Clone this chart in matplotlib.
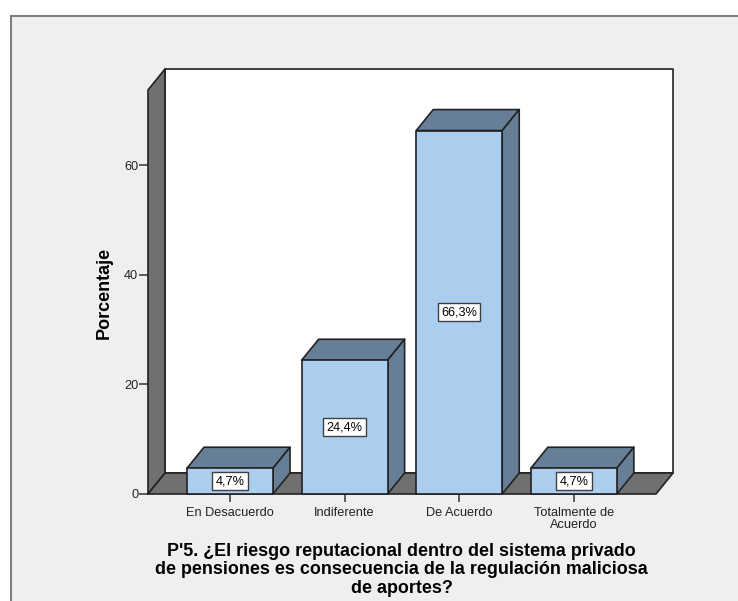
import matplotlib
matplotlib.use("Agg")
import matplotlib.pyplot as plt
from matplotlib.patches import Polygon, Rectangle

categories = ["En Desacuerdo", "Indiferente", "De Acuerdo", "Totalmente de\nAcuerdo"]
porcentaje = [4.7, 24.4, 66.3, 4.7]
etiquetas = ["4,7%", "24,4%", "66,3%", "4,7%"]
y_ticks = [0, 20, 40, 60]
titulo = ("P'5. ¿El riesgo reputacional dentro del sistema privado\n"
          "de pensiones es consecuencia de la regulación maliciosa\n"
          "de aportes?")

W, H = 738, 601
plt.rcParams["font.family"] = ["Liberation Sans", "DejaVu Sans"]

fig = plt.figure(figsize=(W / 100, H / 100), dpi=100, facecolor="white")

# grey panel behind the chart, cut off by the right and bottom edges
bg = fig.add_axes([0, 0, 1, 1])
bg.set_xlim(0, W)
bg.set_ylim(H, 0)
bg.axis("off")
bg.add_patch(Rectangle((10.5, 15.5), W, H, fc="#efefef", ec="#808080", lw=1.5))

# front plane of the 3d box, px 148-656 across and 494-90 down
ax = fig.add_axes([148 / W, 1 - 494 / H, 508 / W, 404 / H])
ax.patch.set_visible(False)
xmin, xmax = -0.7155, 3.717
ymax = 73.7
ax.set_xlim(xmin, xmax)
ax.set_ylim(0, ymax)

dx = 17 / 114.6
dy = 21 / 5.483
bar_w = 86 / 114.6

line = "#222222"
wall = "#707070"
front = "#abcdee"
shade = "#667f97"


def poly(pts, fc, z):
    ax.add_patch(Polygon(pts, closed=True, fc=fc, ec=line, lw=1.2, zorder=z,
                         clip_on=False, joinstyle="round"))


# back wall, left wall and floor
poly([(xmin + dx, dy), (xmax + dx, dy), (xmax + dx, ymax + dy), (xmin + dx, ymax + dy)], "white", 1)
poly([(xmin, 0), (xmin + dx, dy), (xmin + dx, ymax + dy), (xmin, ymax)], wall, 2)
poly([(xmin, 0), (xmax, 0), (xmax + dx, dy), (xmin + dx, dy)], wall, 2)

for i, v in enumerate(porcentaje):
    l = i - bar_w / 2
    r = i + bar_w / 2
    poly([(l, v), (r, v), (r + dx, v + dy), (l + dx, v + dy)], shade, 3)
    poly([(r, 0), (r + dx, dy), (r + dx, v + dy), (r, v)], shade, 3)
    poly([(l, 0), (r, 0), (r, v), (l, v)], front, 4)
    ax.text(i, v / 2, etiquetas[i], ha="center", va="center", fontsize=9.2, color="black", zorder=5,
            bbox=dict(boxstyle="square,pad=0.25", fc="white", ec="#404040", lw=1))

for s in ax.spines.values():
    s.set_visible(False)

ax.set_yticks(y_ticks)
ax.set_xticks(range(len(categories)))
ax.set_xticklabels(categories, linespacing=1.05)
ax.tick_params(axis="y", length=6.5, width=1.1, color="#333333", labelsize=9.2,
               labelcolor="#222222", pad=0.5)
ax.tick_params(axis="x", length=5.5, width=1.1, color="#333333", labelsize=9.2,
               labelcolor="#222222", pad=3.5)

fig.text(104 / W, 1 - 292.5 / H, "Porcentaje", rotation=90, ha="center", va="center",
         fontsize=13, fontweight="bold", color="black")
fig.text(401.5 / W, 1 - 570 / H, titulo, ha="center", va="center", fontsize=12.85,
         fontweight="bold", color="black", linespacing=1.12)

fig.savefig("out.png", dpi=100)
